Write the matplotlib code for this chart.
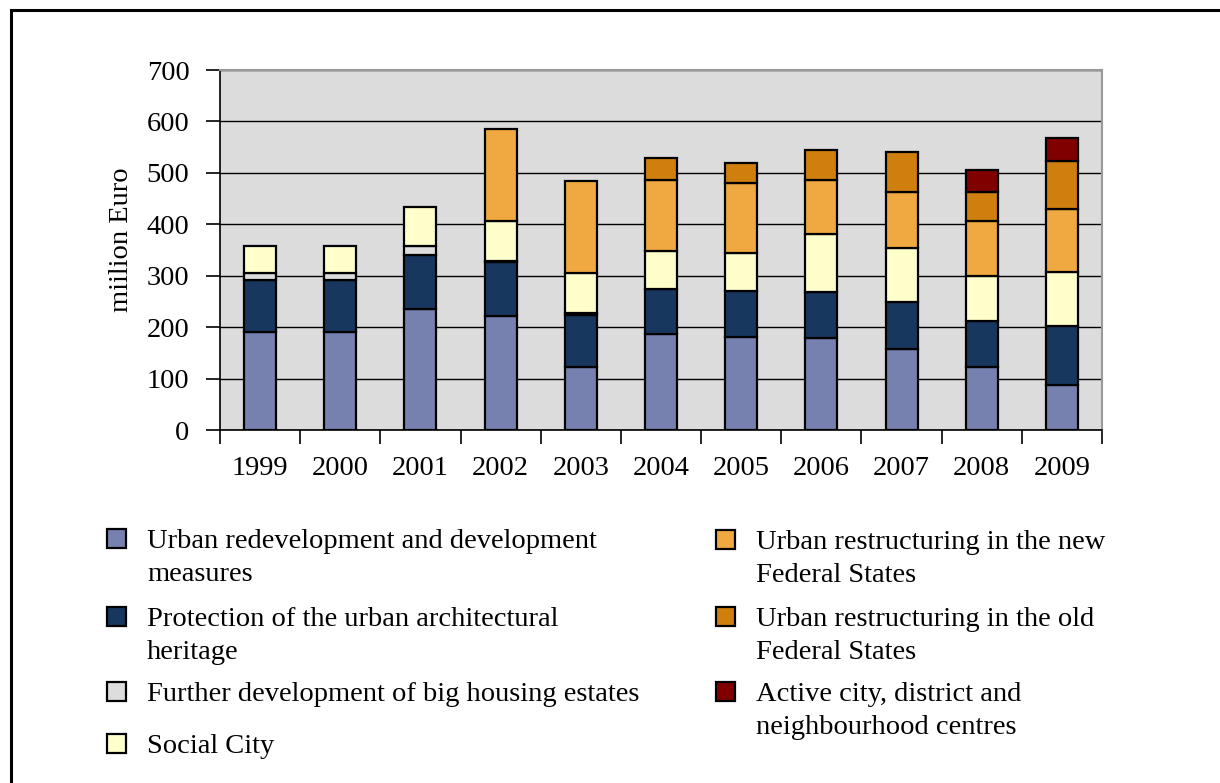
"""Urban development funding programmes 1999-2009, stacked bars (million Euro)."""

import matplotlib

matplotlib.use("Agg")
import matplotlib.pyplot as plt
import numpy as np
from matplotlib.lines import Line2D
from matplotlib.patches import Rectangle

plt.rcParams["font.family"] = ["Liberation Serif", "DejaVu Serif"]

YEARS = ["1999", "2000", "2001", "2002", "2003", "2004", "2005", "2006", "2007", "2008", "2009"]

# values
redevelopment = [190, 190, 235, 222, 122, 186, 181, 178, 157, 122, 88]
heritage = [102, 102, 105, 104, 102, 89, 90, 90, 91, 89, 114]
housing_estates = [13, 13, 18, 3, 4, 0, 0, 0, 0, 0, 0]
social_city = [52, 52, 76, 77, 77, 73, 74, 114, 105, 89, 106]
restructuring_new = [0, 0, 0, 180, 180, 139, 135, 105, 110, 106, 122]
restructuring_old = [0, 0, 0, 0, 0, 41, 40, 57, 77, 57, 93]
active_centres = [0, 0, 0, 0, 0, 0, 0, 0, 0, 42, 45]

SERIES = [
    ("Urban redevelopment and development\nmeasures", redevelopment, "#7781AF"),
    ("Protection of the urban architectural\nheritage", heritage, "#17375E"),
    ("Further development of big housing estates", housing_estates, "#DDDDDD"),
    ("Social City", social_city, "#FFFFCC"),
    ("Urban restructuring in the new\nFederal States", restructuring_new, "#F0A940"),
    ("Urban restructuring in the old\nFederal States", restructuring_old, "#CF7F0D"),
    ("Active city, district and\nneighbourhood centres", active_centres, "#800000"),
]

FS = 20.5
W, H = 1220, 783
LINE_STEP = 33  # px between legend text baselines

fig = plt.figure(figsize=(W / 100, H / 100), dpi=100)
ax = fig.add_axes([220 / W, 1 - 430 / H, 882 / W, 360 / H])
ax.set_facecolor("#DCDCDC")

x = np.arange(len(YEARS))
bottom = np.zeros(len(YEARS))
for label, values, color in SERIES:
    vals = np.array(values, dtype=float)
    mask = vals > 0
    ax.bar(x[mask], vals[mask], 0.4, bottom=bottom[mask], color=color,
           edgecolor="black", linewidth=1.6, zorder=3)
    bottom += vals

ax.set_xlim(-0.5, len(YEARS) - 0.5)
ax.set_ylim(0, 700)
ax.set_yticks(np.arange(0, 701, 100))
ax.yaxis.grid(True, color="black", linewidth=1.0, zorder=1)
ax.set_axisbelow(True)

ax.set_xticks(x)
ax.set_xticklabels(YEARS)
ax.set_xticks(np.arange(-0.5, len(YEARS)), minor=True)
ax.tick_params(axis="x", which="major", length=0, pad=19, labelsize=FS)
ax.tick_params(axis="x", which="minor", length=10, width=1.2, direction="out")
ax.tick_params(axis="y", length=10, width=1.2, pad=12, labelsize=FS)

for side in ("left", "bottom"):
    ax.spines[side].set_color("black")
    ax.spines[side].set_linewidth(1.2)
for side in ("top", "right"):
    ax.spines[side].set_color("#999999")
    ax.spines[side].set_linewidth(1.5)

ax.set_ylabel("miilion Euro", fontsize=FS)
ax.yaxis.set_label_coords(-0.097, 0.53)

# legend laid out by hand: square sits on the baseline of the first text line
LEGEND_SLOTS = [(107, 548), (107, 626), (107, 701), (107, 753),
                (716, 549), (716, 626), (716, 701)]
for (label, _, color), (mx, base) in zip(SERIES, LEGEND_SLOTS):
    fig.add_artist(Rectangle((mx / W, 1 - base / H), 19 / W, 19 / H,
                             transform=fig.transFigure, facecolor=color,
                             edgecolor="black", linewidth=1.6))
    for i, line in enumerate(label.split("\n")):
        fig.text((mx + 40) / W, 1 - (base + i * LINE_STEP) / H, line,
                 fontsize=FS, va="baseline", ha="left")

# frame of the original figure box (top and left edges visible)
fig.add_artist(Line2D([11 / W, 11 / W], [0, 1 - 10 / H], color="black", linewidth=2.2))
fig.add_artist(Line2D([11 / W, 1], [1 - 10 / H, 1 - 10 / H], color="black", linewidth=2.2))

fig.savefig("out.png", dpi=100)
